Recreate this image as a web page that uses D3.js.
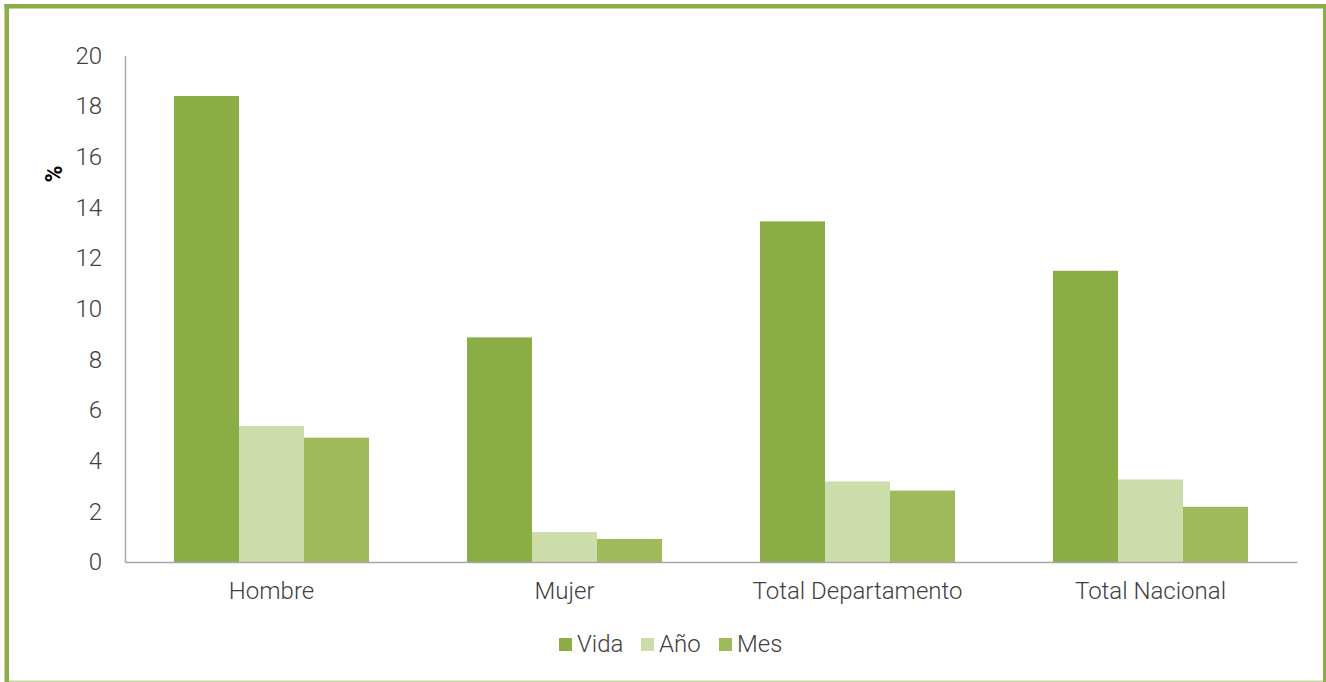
<!DOCTYPE html>
<html><head><meta charset="utf-8">
<script src="https://cdn.jsdelivr.net/npm/d3@7"></script>
<style>
html,body{margin:0;padding:0;background:#fff;}
svg{display:block;font-family:Roboto, "Open Sans", sans-serif;}
</style></head>
<body>
<svg id="chart" width="1326" height="682"></svg>
<script>
const categories = ["Hombre", "Mujer", "Total Departamento", "Total Nacional"];
const seriesNames = ["Vida", "Año", "Mes"];
const vida = [18.4, 8.87, 13.45, 11.5];
const anio = [5.37, 1.18, 3.18, 3.26];
const mes = [4.91, 0.91, 2.82, 2.18];
const yTicks = [0, 2, 4, 6, 8, 10, 12, 14, 16, 18, 20];
const colors = ["#8aad46", "#ccdcab", "#9eba5b"];

const seriesValues = [vida, anio, mes];
const svg = d3.select("#chart");

// outer border
const borderColor = "#8aad46";
svg.append("rect").attr("x", 4.5).attr("y", 4).attr("width", 1321.5).attr("height", 4.5).attr("fill", borderColor);
svg.append("rect").attr("x", 4.5).attr("y", 4).attr("width", 4.5).attr("height", 678).attr("fill", borderColor);
svg.append("rect").attr("x", 1323).attr("y", 4).attr("width", 3).attr("height", 678).attr("fill", borderColor);
svg.append("rect").attr("x", 9).attr("y", 680.5).attr("width", 1314).attr("height", 1.5).attr("fill", "#c5d8a0");

const plotLeft = 125, plotRight = 1297, plotTop = 55.5, plotBottom = 562;
const x = d3.scaleBand().domain(categories).range([plotLeft, plotRight]).paddingInner(0).paddingOuter(0);
const x1 = d3.scaleBand().domain(seriesNames).range([49, x.bandwidth() - 49]);
const y = d3.scaleLinear().domain([0, 20]).range([plotBottom, plotTop]);

const textColor = "#404040";
const fs = 24;

// bars
categories.forEach((c, i) => {
  const g = svg.append("g").attr("transform", `translate(${x(c)},0)`);
  seriesNames.forEach((s, j) => {
    const v = seriesValues[j][i];
    g.append("rect")
      .attr("x", x1(s)).attr("width", x1.bandwidth())
      .attr("y", y(v)).attr("height", y(0) - y(v))
      .attr("fill", colors[j]);
  });
});

// y axis
const yAxis = d3.axisLeft(y).tickValues(yTicks).tickSize(0).tickPadding(23).tickFormat(d3.format("d"));
const gy = svg.append("g").attr("transform", `translate(${plotLeft},0)`).call(yAxis);
gy.select(".domain").attr("stroke", "#a6a6a6").attr("stroke-width", 1.5);
gy.selectAll("text").attr("fill", textColor).attr("font-size", fs).attr("font-weight", 300)
  .attr("font-family", "Roboto");

// x axis
const xAxis = d3.axisBottom(x).tickSize(0).tickPadding(20);
const gx = svg.append("g").attr("transform", `translate(0,${plotBottom})`).call(xAxis);
gx.select(".domain").attr("stroke", "#a6a6a6").attr("stroke-width", 1.5);
gx.selectAll("text").attr("fill", textColor).attr("font-size", fs).attr("font-weight", 300)
  .attr("font-family", "Roboto");

// y label
svg.append("text").attr("transform", "translate(62,174) rotate(-90)")
  .attr("text-anchor", "middle").attr("font-size", 23).attr("font-weight", 700)
  .attr("fill", "#000").text("%");

// legend
const legendX = [559, 641, 719];
seriesNames.forEach((s, j) => {
  svg.append("rect").attr("x", legendX[j]).attr("y", 638).attr("width", 13).attr("height", 13)
    .attr("fill", colors[j]);
  svg.append("text").attr("x", legendX[j] + 18).attr("y", 652)
    .attr("font-size", fs).attr("font-weight", 300).attr("fill", textColor).text(s);
});
</script>
</body></html>
